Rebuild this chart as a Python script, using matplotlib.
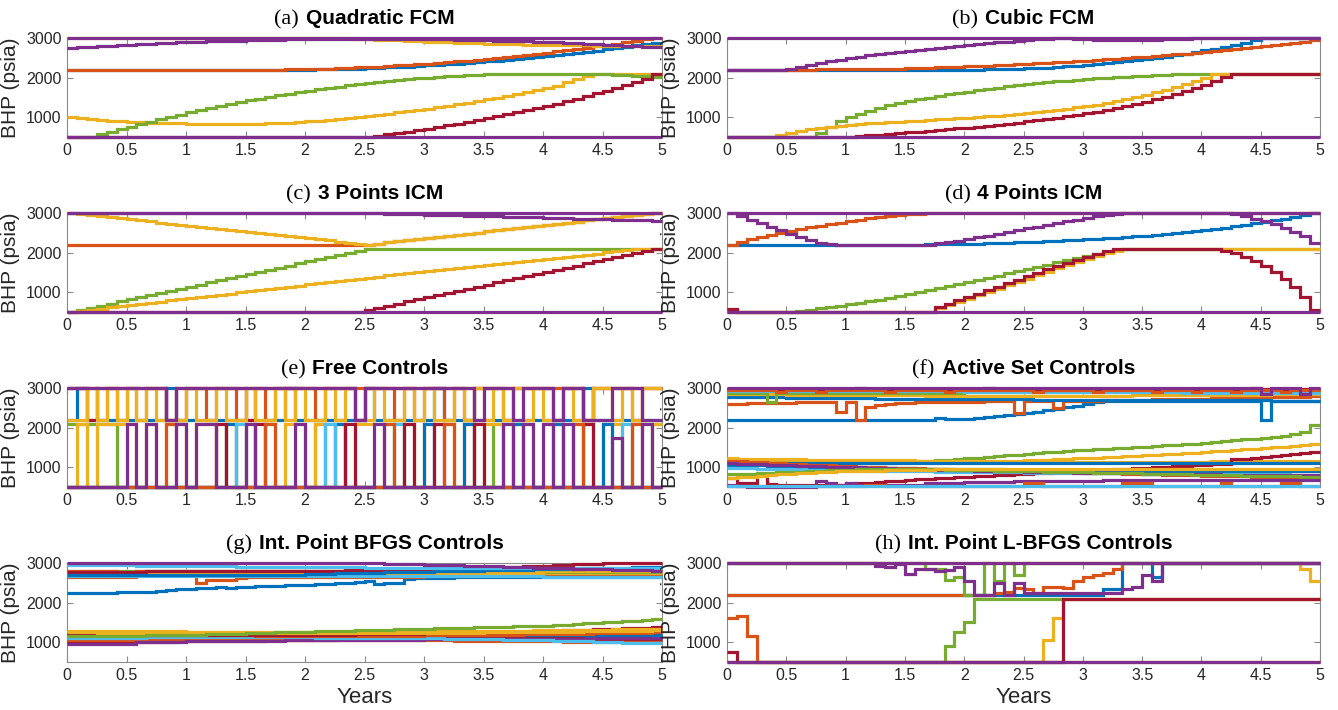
import numpy as np
import matplotlib.pyplot as plt
from matplotlib.offsetbox import TextArea, HPacker, AnchoredOffsetbox

BLUE = '#0072BD'
ORANGE = '#D95319'
YELLOW = '#EDB120'
PURPLE = '#7E2F8E'
GREEN = '#77AC30'
CYAN = '#4DBEEE'
RED = '#A2142F'

# one control step per month over five years
step_edges = np.linspace(0, 5, 61)
x_ticks = [0, 0.5, 1, 1.5, 2, 2.5, 3, 3.5, 4, 4.5, 5]
x_tick_labels = ['0', '0.5', '1', '1.5', '2', '2.5', '3', '3.5', '4', '4.5', '5']
y_ticks = [1000, 2000, 3000]
y_tick_labels = ['1000', '2000', '3000']

# wells sitting on the BHP bounds (psia), monthly values
bhp_upper = [3000, 3000, 3000, 3000, 3000, 3000, 3000, 3000, 3000, 3000, 3000, 3000,
             3000, 3000, 3000, 3000, 3000, 3000, 3000, 3000, 3000, 3000, 3000, 3000,
             3000, 3000, 3000, 3000, 3000, 3000, 3000, 3000, 3000, 3000, 3000, 3000,
             3000, 3000, 3000, 3000, 3000, 3000, 3000, 3000, 3000, 3000, 3000, 3000,
             3000, 3000, 3000, 3000, 3000, 3000, 3000, 3000, 3000, 3000, 3000, 3000]
bhp_lower = [500, 500, 500, 500, 500, 500, 500, 500, 500, 500, 500, 500,
             500, 500, 500, 500, 500, 500, 500, 500, 500, 500, 500, 500,
             500, 500, 500, 500, 500, 500, 500, 500, 500, 500, 500, 500,
             500, 500, 500, 500, 500, 500, 500, 500, 500, 500, 500, 500,
             500, 500, 500, 500, 500, 500, 500, 500, 500, 500, 500, 500]

# (a) quadratic FCM
a_blue = [2200, 2200, 2200, 2200, 2200, 2200, 2200, 2200, 2200, 2200, 2200, 2200,
          2200, 2200, 2200, 2200, 2200, 2200, 2200, 2200, 2200, 2200, 2200, 2202,
          2204, 2208, 2212, 2217, 2223, 2230, 2238, 2247, 2257, 2268, 2280, 2293,
          2307, 2321, 2337, 2353, 2371, 2389, 2409, 2429, 2450, 2473, 2496, 2520,
          2545, 2571, 2598, 2626, 2655, 2685, 2716, 2747, 2780, 2813, 2848, 2883]
a_orange = [2200, 2200, 2200, 2200, 2200, 2200, 2200, 2200, 2200, 2200, 2200, 2200,
            2200, 2200, 2200, 2200, 2200, 2200, 2200, 2200, 2202, 2204, 2208, 2212,
            2217, 2224, 2231, 2239, 2248, 2258, 2269, 2281, 2294, 2308, 2323, 2339,
            2356, 2374, 2392, 2412, 2432, 2454, 2477, 2500, 2525, 2550, 2577, 2604,
            2633, 2662, 2692, 2723, 2756, 2789, 2823, 2858, 2894, 2931, 2969, 3000]
a_yellow_inj = [3000, 3000, 3000, 3000, 3000, 3000, 3000, 3000, 3000, 3000, 3000, 3000,
                3000, 3000, 3000, 3000, 3000, 3000, 3000, 3000, 3000, 3000, 3000, 3000,
                3000, 3000, 3000, 3000, 2995, 2983, 2971, 2960, 2949, 2939, 2929, 2919,
                2910, 2901, 2892, 2884, 2876, 2869, 2862, 2855, 2849, 2843, 2837, 2832,
                2827, 2823, 2819, 2815, 2812, 2809, 2807, 2805, 2803, 2802, 2801, 2800]
a_yellow_prod = [1000, 975, 952, 932, 915, 900, 888, 877, 867, 859, 852, 846,
                 841, 837, 834, 832, 831, 832, 834, 840, 847, 855, 865, 877,
                 895, 912, 930, 950, 972, 1000, 1030, 1060, 1090, 1120, 1152, 1185,
                 1220, 1256, 1292, 1330, 1368, 1408, 1450, 1493, 1537, 1583, 1630, 1680,
                 1730, 1800, 1880, 1960, 2040, 2100, 2100, 2100, 2100, 2100, 2100, 2100]
a_green = [500, 500, 500, 566, 634, 700, 765, 828, 890, 950, 1009, 1066,
           1122, 1176, 1229, 1280, 1329, 1377, 1424, 1469, 1512, 1554, 1595, 1633,
           1671, 1707, 1741, 1774, 1805, 1835, 1863, 1890, 1915, 1938, 1960, 1981,
           2000, 2018, 2034, 2048, 2061, 2073, 2083, 2091, 2098, 2100, 2100, 2100,
           2100, 2100, 2100, 2100, 2098, 2091, 2083, 2073, 2061, 2048, 2034, 2018]
a_red = [500, 500, 500, 500, 500, 500, 500, 500, 500, 500, 500, 500,
         500, 500, 500, 500, 500, 500, 500, 500, 500, 500, 500, 500,
         500, 500, 500, 500, 500, 500, 500, 530, 565, 600, 637, 675,
         715, 755, 795, 838, 882, 927, 975, 1022, 1070, 1120, 1172, 1225,
         1280, 1340, 1400, 1465, 1530, 1600, 1670, 1745, 1820, 1895, 1975, 2090]
a_purple = [2750, 2765, 2780, 2794, 2807, 2820, 2833, 2845, 2856, 2867, 2878, 2888,
            2897, 2906, 2915, 2922, 2930, 2937, 2943, 2949, 2954, 2959, 2964, 2967,
            2971, 2974, 2976, 2978, 2979, 2980, 2980, 2980, 2979, 2978, 2976, 2974,
            2971, 2967, 2964, 2959, 2954, 2949, 2943, 2937, 2930, 2922, 2915, 2906,
            2897, 2888, 2878, 2867, 2856, 2845, 2833, 2820, 2807, 2794, 2780, 2765]

# (b) cubic FCM
b_blue = [2200, 2200, 2200, 2200, 2200, 2200, 2200, 2200, 2200, 2200, 2200, 2200,
          2200, 2200, 2200, 2200, 2200, 2200, 2200, 2200, 2200, 2200, 2200, 2200,
          2200, 2203, 2207, 2212, 2218, 2225, 2233, 2243, 2255, 2268, 2283, 2300,
          2318, 2338, 2360, 2384, 2410, 2438, 2468, 2500, 2534, 2570, 2608, 2648,
          2690, 2735, 2782, 2832, 2885, 2940, 3000, 3000, 3000, 3000, 3000, 3000]
b_orange = [2200, 2200, 2200, 2200, 2200, 2200, 2200, 2202, 2204, 2206, 2208, 2210,
            2212, 2215, 2218, 2222, 2226, 2231, 2236, 2243, 2250, 2258, 2266, 2274,
            2283, 2293, 2303, 2313, 2324, 2336, 2348, 2360, 2373, 2387, 2401, 2416,
            2431, 2446, 2462, 2478, 2495, 2512, 2530, 2548, 2567, 2587, 2607, 2628,
            2650, 2673, 2697, 2721, 2746, 2772, 2799, 2826, 2854, 2883, 2913, 2945]
b_green = [500, 500, 500, 500, 500, 500, 500, 500, 500, 600, 760, 900,
           1000, 1090, 1170, 1240, 1300, 1352, 1400, 1450, 1495, 1538, 1578, 1615,
           1650, 1685, 1718, 1750, 1780, 1808, 1835, 1860, 1884, 1906, 1927, 1946,
           1964, 1980, 1995, 2009, 2022, 2034, 2046, 2060, 2075, 2090, 2100, 2100,
           2100, 2100, 2100, 2100, 2100, 2100, 2100, 2100, 2100, 2100, 2100, 2100]
b_yellow = [500, 500, 500, 500, 500, 560, 610, 655, 695, 730, 760, 787,
            810, 828, 845, 860, 874, 887, 900, 914, 928, 943, 958, 974,
            990, 1006, 1023, 1041, 1060, 1080, 1100, 1125, 1152, 1182, 1214, 1247,
            1282, 1320, 1362, 1408, 1458, 1510, 1565, 1625, 1690, 1760, 1835, 1915,
            2000, 2080, 2100, 2100, 2100, 2100, 2100, 2100, 2100, 2100, 2100, 2100]
b_red = [500, 500, 500, 500, 500, 500, 500, 500, 500, 500, 500, 500,
         500, 520, 540, 560, 578, 597, 616, 635, 655, 675, 696, 718,
         740, 763, 787, 812, 838, 865, 893, 923, 955, 988, 1023, 1060,
         1098, 1140, 1185, 1232, 1282, 1335, 1390, 1450, 1515, 1585, 1660, 1740,
         1825, 1915, 2010, 2100, 2100, 2100, 2100, 2100, 2100, 2100, 2100, 2100]
b_purple = [2200, 2200, 2200, 2200, 2200, 2200, 2210, 2260, 2310, 2360, 2410, 2455,
            2495, 2530, 2565, 2598, 2628, 2655, 2680, 2705, 2728, 2752, 2775, 2798,
            2820, 2842, 2865, 2888, 2910, 2930, 2950, 2968, 2985, 2995, 2995, 2985,
            2972, 2962, 2955, 2950, 2950, 2952, 2956, 2962, 2970, 2978, 2986, 2993,
            3000, 3000, 3000, 3000, 3000, 3000, 3000, 3000, 3000, 3000, 3000, 3000]

# (c) 3 points ICM
c_orange = [2200, 2200, 2200, 2200, 2200, 2200, 2200, 2200, 2200, 2200, 2200, 2200,
            2200, 2200, 2200, 2200, 2200, 2200, 2200, 2200, 2200, 2200, 2200, 2200,
            2200, 2200, 2200, 2200, 2200, 2200, 2200, 2228, 2256, 2283, 2311, 2339,
            2367, 2394, 2422, 2450, 2478, 2506, 2533, 2561, 2589, 2617, 2644, 2672,
            2700, 2728, 2756, 2783, 2811, 2839, 2867, 2894, 2922, 2950, 2978, 3000]
c_yellow_inj = [3000, 2973, 2947, 2920, 2893, 2867, 2840, 2813, 2787, 2760, 2733, 2707,
                2680, 2653, 2627, 2600, 2573, 2547, 2520, 2493, 2467, 2440, 2413, 2387,
                2360, 2333, 2307, 2280, 2253, 2227, 2200, 2228, 2256, 2283, 2311, 2339,
                2367, 2394, 2422, 2450, 2478, 2506, 2533, 2561, 2589, 2617, 2644, 2672,
                2700, 2728, 2756, 2783, 2811, 2839, 2867, 2894, 2922, 2950, 2978, 3000]
c_green = [500, 553, 607, 660, 713, 767, 820, 873, 927, 980, 1033, 1087,
           1140, 1193, 1247, 1300, 1353, 1407, 1460, 1513, 1567, 1620, 1673, 1727,
           1780, 1833, 1887, 1940, 1993, 2047, 2100, 2100, 2100, 2100, 2100, 2100,
           2100, 2100, 2100, 2100, 2100, 2100, 2100, 2100, 2100, 2100, 2100, 2100,
           2100, 2100, 2100, 2100, 2100, 2100, 2100, 2100, 2100, 2100, 2100, 2100]
c_yellow_prod = [500, 529, 558, 587, 616, 645, 674, 703, 732, 761, 790, 819,
                 848, 877, 906, 935, 964, 993, 1022, 1051, 1080, 1109, 1138, 1167,
                 1196, 1225, 1254, 1283, 1312, 1341, 1370, 1396, 1423, 1449, 1476, 1502,
                 1528, 1555, 1581, 1608, 1634, 1660, 1687, 1713, 1740, 1766, 1792, 1819,
                 1845, 1872, 1898, 1924, 1951, 1977, 2004, 2030, 2056, 2083, 2100, 2100]
c_red = [500, 500, 500, 500, 500, 500, 500, 500, 500, 500, 500, 500,
         500, 500, 500, 500, 500, 500, 500, 500, 500, 500, 500, 500,
         500, 500, 500, 500, 500, 500, 553, 607, 660, 713, 767, 820,
         873, 927, 980, 1033, 1087, 1140, 1193, 1247, 1300, 1353, 1407, 1460,
         1513, 1567, 1620, 1673, 1727, 1780, 1833, 1887, 1940, 1993, 2047, 2100]
c_purple = [3000, 3000, 3000, 3000, 3000, 3000, 3000, 3000, 3000, 3000, 3000, 3000,
            3000, 3000, 3000, 3000, 3000, 3000, 3000, 3000, 3000, 3000, 3000, 3000,
            3000, 3000, 3000, 3000, 3000, 3000, 3000, 2993, 2987, 2980, 2973, 2967,
            2960, 2953, 2947, 2940, 2933, 2927, 2920, 2913, 2907, 2900, 2893, 2887,
            2880, 2873, 2867, 2860, 2853, 2847, 2840, 2833, 2827, 2820, 2813, 2807]

# (d) 4 points ICM
d_blue = [2200, 2200, 2200, 2200, 2200, 2200, 2200, 2200, 2200, 2200, 2200, 2200,
          2200, 2200, 2200, 2200, 2200, 2200, 2200, 2203, 2206, 2210, 2214, 2218,
          2222, 2228, 2235, 2242, 2250, 2258, 2267, 2277, 2288, 2299, 2311, 2323,
          2336, 2350, 2364, 2379, 2395, 2412, 2430, 2449, 2469, 2490, 2512, 2535,
          2570, 2600, 2632, 2665, 2700, 2737, 2775, 2815, 2857, 2900, 2945, 2990]
d_orange = [2200, 2270, 2340, 2400, 2455, 2505, 2550, 2595, 2640, 2680, 2720, 2758,
            2795, 2830, 2862, 2892, 2920, 2945, 2965, 2982, 2995, 3000, 3000, 3000,
            3000, 3000, 3000, 3000, 3000, 3000, 3000, 3000, 3000, 3000, 3000, 3000,
            3000, 3000, 3000, 3000, 3000, 3000, 3000, 3000, 3000, 3000, 3000, 3000,
            3000, 3000, 3000, 3000, 3000, 3000, 3000, 3000, 3000, 3000, 3000, 3000]
d_green = [500, 500, 500, 500, 500, 500, 500, 530, 560, 592, 625, 660,
           695, 732, 772, 815, 860, 905, 950, 998, 1048, 1098, 1150, 1202,
           1255, 1310, 1365, 1420, 1475, 1530, 1585, 1640, 1695, 1750, 1805, 1860,
           1915, 1970, 2020, 2065, 2100, 2100, 2100, 2100, 2100, 2100, 2100, 2100,
           2100, 2100, 2100, 2100, 2100, 2100, 2100, 2100, 2100, 2100, 2100, 2100]
d_yellow = [500, 500, 500, 500, 500, 500, 500, 500, 500, 500, 500, 500,
            500, 500, 500, 500, 500, 500, 500, 500, 500, 600, 680, 760,
            840, 920, 1005, 1090, 1175, 1260, 1345, 1430, 1515, 1600, 1680, 1760,
            1835, 1910, 1980, 2045, 2100, 2100, 2100, 2100, 2100, 2100, 2100, 2100,
            2100, 2100, 2100, 2100, 2100, 2100, 2100, 2100, 2100, 2100, 2100, 2100]
d_red = [580, 500, 500, 500, 500, 500, 500, 500, 500, 500, 500, 500,
         500, 500, 500, 500, 500, 500, 500, 500, 500, 620, 700, 790,
         880, 965, 1050, 1140, 1230, 1320, 1410, 1495, 1580, 1660, 1740, 1820,
         1895, 1965, 2030, 2080, 2100, 2100, 2100, 2100, 2100, 2100, 2100, 2100,
         2100, 2080, 2040, 1980, 1900, 1790, 1660, 1510, 1340, 1130, 880, 560]
d_purple = [3000, 2920, 2830, 2740, 2650, 2560, 2470, 2390, 2310, 2250, 2210, 2200,
            2200, 2200, 2200, 2200, 2200, 2200, 2200, 2200, 2200, 2230, 2265, 2300,
            2340, 2385, 2430, 2475, 2520, 2565, 2610, 2655, 2700, 2745, 2790, 2835,
            2875, 2915, 2950, 2980, 3000, 3000, 3000, 3000, 3000, 3000, 3000, 3000,
            3000, 3000, 3000, 2970, 2920, 2860, 2790, 2710, 2620, 2520, 2410, 2250]

# (e) free controls (bang-bang)
e_blue_inj = [2200, 3000, 2200, 2200, 2200, 2200, 2200, 2200, 2200, 2200, 3000, 2200,
              2200, 2200, 2200, 2200, 2200, 2200, 2200, 2200, 2200, 2200, 3000, 2200,
              2200, 2200, 2200, 2200, 2200, 2200, 3000, 2200, 2200, 2200, 2200, 2200,
              2200, 3000, 2200, 2200, 2200, 2200, 2200, 2200, 2200, 2200, 2200, 2200,
              2200, 2200, 2200, 2200, 3000, 2200, 2200, 2200, 2200, 2200, 2200, 2200]
e_orange_inj = [3000, 3000, 3000, 2200, 3000, 2200, 3000, 2200, 3000, 3000, 2200, 3000,
                3000, 3000, 2200, 3000, 3000, 2200, 3000, 3000, 2200, 3000, 3000, 3000,
                3000, 2200, 3000, 3000, 3000, 3000, 3000, 3000, 3000, 2200, 3000, 3000,
                3000, 3000, 2200, 3000, 3000, 3000, 3000, 3000, 2200, 3000, 3000, 3000,
                3000, 3000, 3000, 3000, 2200, 3000, 3000, 3000, 3000, 2200, 3000, 3000]
e_red_inj = [3000, 3000, 2200, 3000, 3000, 3000, 3000, 3000, 3000, 3000, 2200, 2200,
             3000, 3000, 3000, 3000, 3000, 3000, 2200, 3000, 3000, 3000, 3000, 3000,
             3000, 3000, 3000, 3000, 3000, 2200, 3000, 3000, 3000, 3000, 3000, 2200,
             3000, 3000, 3000, 3000, 2200, 3000, 3000, 3000, 3000, 3000, 3000, 3000,
             3000, 2200, 3000, 3000, 2200, 3000, 3000, 3000, 3000, 3000, 3000, 3000]
e_yellow_inj = [2200, 2200, 3000, 2200, 3000, 2200, 3000, 2200, 3000, 2200, 2200, 2200,
                3000, 2200, 2200, 3000, 2200, 2200, 3000, 2200, 2200, 3000, 2200, 3000,
                2200, 2200, 3000, 2200, 3000, 2200, 2200, 3000, 2200, 2200, 3000, 2200,
                3000, 2200, 2200, 3000, 2200, 3000, 2200, 3000, 2200, 3000, 2200, 3000,
                2200, 2200, 3000, 2200, 2200, 3000, 3000, 2200, 3000, 2200, 3000, 3000]
e_purple_inj = [3000, 3000, 3000, 3000, 3000, 3000, 3000, 3000, 3000, 3000, 2200, 3000,
                3000, 3000, 3000, 3000, 3000, 3000, 3000, 3000, 3000, 3000, 3000, 3000,
                3000, 3000, 3000, 3000, 3000, 2200, 3000, 3000, 3000, 3000, 3000, 3000,
                3000, 3000, 3000, 3000, 3000, 2200, 3000, 3000, 3000, 2200, 3000, 3000,
                3000, 2200, 3000, 3000, 2200, 2200, 2200, 3000, 3000, 3000, 2200, 2200]
e_green_prod = [2100, 2100, 2100, 2100, 2100, 500, 500, 500, 500, 500, 500, 500,
                500, 500, 500, 500, 500, 500, 500, 500, 500, 500, 500, 500,
                500, 2100, 500, 500, 500, 500, 500, 500, 500, 500, 500, 500,
                500, 500, 500, 500, 500, 500, 500, 2100, 500, 500, 500, 500,
                500, 500, 500, 500, 500, 500, 500, 500, 500, 500, 500, 2100]
e_yellow_prod = [500, 2100, 500, 2100, 2100, 2100, 2100, 500, 2100, 500, 2100, 2100,
                 500, 2100, 2100, 500, 2100, 500, 2100, 500, 2100, 500, 2100, 2100,
                 500, 2100, 500, 2100, 500, 2100, 2100, 2100, 2100, 500, 2100, 500,
                 2100, 2100, 2100, 500, 2100, 500, 2100, 2100, 500, 2100, 2100, 500,
                 2100, 2100, 500, 2100, 2100, 500, 2100, 2100, 500, 2100, 2100, 2100]
e_blue_prod = [500, 500, 500, 500, 500, 500, 500, 500, 500, 500, 500, 500,
               500, 500, 500, 500, 2100, 500, 500, 500, 500, 500, 500, 500,
               500, 500, 500, 2100, 500, 500, 500, 500, 500, 500, 500, 500,
               2100, 500, 500, 500, 2100, 500, 500, 500, 500, 2100, 500, 500,
               500, 2100, 500, 500, 500, 500, 2100, 500, 500, 500, 500, 500]
e_cyan_prod = [500, 500, 500, 500, 500, 500, 500, 500, 500, 500, 500, 500,
               500, 500, 500, 500, 500, 2100, 500, 500, 500, 500, 500, 500,
               500, 500, 2100, 500, 500, 500, 500, 500, 500, 2100, 500, 500,
               500, 500, 500, 500, 500, 500, 500, 500, 500, 500, 500, 500,
               500, 500, 500, 500, 500, 500, 500, 500, 2100, 500, 500, 500]
e_red_prod = [500, 500, 500, 500, 500, 500, 500, 500, 500, 500, 500, 500,
              500, 500, 500, 2100, 500, 500, 500, 2100, 500, 500, 500, 500,
              500, 500, 500, 500, 2100, 500, 500, 500, 500, 500, 2100, 500,
              500, 2100, 500, 500, 500, 2100, 500, 500, 500, 500, 500, 500,
              500, 500, 500, 500, 2100, 500, 500, 500, 500, 500, 500, 500]
e_orange_prod = [500, 500, 500, 500, 500, 500, 500, 500, 500, 500, 2100, 500,
                 500, 500, 500, 500, 500, 500, 500, 500, 2100, 500, 500, 500,
                 500, 500, 500, 500, 500, 500, 500, 500, 2100, 500, 500, 500,
                 500, 500, 2100, 500, 500, 500, 500, 500, 500, 500, 500, 500,
                 500, 500, 500, 2100, 500, 500, 500, 500, 500, 2100, 500, 500]
e_purple_prod = [500, 500, 500, 500, 500, 500, 2100, 500, 2100, 500, 500, 2100,
                 500, 2100, 2100, 500, 500, 500, 2100, 500, 500, 500, 500, 2100,
                 500, 500, 500, 500, 500, 500, 500, 2100, 500, 500, 500, 500,
                 500, 500, 500, 500, 500, 500, 500, 500, 2100, 500, 2100, 500,
                 2100, 500, 2100, 500, 500, 500, 500, 1742, 500, 500, 2100, 500]

# (f) active set controls
f_blue_inj = [2200, 2200, 2200, 2200, 2200, 2200, 2200, 2200, 2200, 2200, 2200, 2200,
              2200, 2200, 2200, 2200, 2200, 2200, 2200, 2200, 2200, 2250, 2215, 2210,
              2220, 2240, 2265, 2290, 2315, 2340, 2370, 2405, 2440, 2475, 2515, 2555,
              2600, 2635, 2665, 2680, 2680, 2680, 2680, 2680, 2680, 2680, 2680, 2680,
              2680, 2680, 2680, 2680, 2680, 2680, 2200, 2680, 2680, 2680, 2680, 2680]
f_orange_inj = [2600, 2605, 2610, 2615, 2620, 2625, 2630, 2635, 2640, 2645, 2645, 2400,
                2650, 2200, 2520, 2560, 2590, 2610, 2625, 2635, 2640, 2645, 2650, 2650,
                2655, 2655, 2660, 2660, 2660, 2380, 2665, 2665, 2670, 2500, 2670, 2675,
                2680, 2680, 2685, 2690, 2695, 2700, 2705, 2710, 2715, 2720, 2725, 2730,
                2735, 2740, 2745, 2750, 2755, 2760, 2765, 2770, 2775, 2780, 2785, 2790]
f_blue_inj2 = [2780, 2777, 2773, 2770, 2767, 2763, 2760, 2757, 2753, 2750, 2747, 2743,
               2740, 2738, 2737, 2735, 2733, 2732, 2730, 2728, 2727, 2725, 2723, 2722,
               2720, 2718, 2717, 2715, 2713, 2712, 2710, 2708, 2707, 2705, 2703, 2702,
               2700, 2699, 2698, 2698, 2697, 2696, 2695, 2694, 2693, 2693, 2692, 2691,
               2690, 2689, 2688, 2688, 2687, 2686, 2685, 2684, 2683, 2683, 2682, 2681]
f_yellow_inj = [2850, 2848, 2845, 2843, 2840, 2838, 2835, 2833, 2830, 2828, 2825, 2823,
                2820, 2819, 2818, 2816, 2815, 2814, 2813, 2811, 2810, 2809, 2808, 2806,
                2805, 2805, 2805, 2805, 2805, 2805, 2805, 2805, 2805, 2805, 2805, 2805,
                2805, 2806, 2808, 2809, 2810, 2811, 2813, 2814, 2815, 2816, 2818, 2819,
                2820, 2823, 2825, 2828, 2830, 2833, 2835, 2838, 2840, 2843, 2845, 2848]
f_green_inj = [2880, 2880, 2880, 2880, 2650, 2880, 2880, 2880, 2880, 2880, 2880, 2880,
               2885, 2885, 2885, 2885, 2885, 2885, 2885, 2885, 2885, 2885, 2885, 2885,
               2890, 2890, 2890, 2890, 2890, 2890, 2890, 2890, 2890, 2890, 2890, 2890,
               2895, 2895, 2895, 2895, 2895, 2895, 2895, 2895, 2895, 2895, 2895, 2895,
               2900, 2900, 2900, 2900, 2900, 2900, 2900, 2900, 2900, 2900, 2900, 2900]
f_cyan_inj = [2925, 2925, 2925, 2925, 2925, 2925, 2925, 2925, 2925, 2925, 2925, 2925,
              2915, 2915, 2915, 2915, 2915, 2915, 2915, 2915, 2915, 2915, 2915, 2915,
              2905, 2905, 2905, 2905, 2905, 2905, 2905, 2905, 2905, 2905, 2905, 2905,
              2900, 2900, 2900, 2900, 2900, 2900, 2900, 2900, 2900, 2900, 2870, 2870,
              2870, 2870, 2885, 2885, 2885, 2885, 2885, 2885, 2885, 2885, 2885, 2885]
f_red_inj = [2965, 2965, 2965, 2965, 2965, 2965, 2965, 2965, 2965, 2965, 2965, 2965,
             2965, 3000, 2965, 2965, 2965, 2965, 2965, 2965, 2965, 2965, 2965, 2965,
             2965, 2965, 3000, 2965, 2965, 2965, 2965, 2965, 2965, 2965, 2965, 2965,
             2965, 2965, 2965, 2965, 2965, 2965, 2965, 2965, 2965, 2965, 2965, 2965,
             2965, 2965, 2965, 2965, 2965, 3000, 2965, 2965, 2965, 2965, 2965, 2965]
f_orange_inj2 = [2940, 2940, 2940, 2940, 2940, 2900, 2940, 2940, 2940, 2900, 2940, 2940,
                 2940, 2940, 2940, 2940, 2900, 2940, 2940, 2940, 2940, 2940, 2900, 2940,
                 2940, 2940, 2940, 2940, 2940, 2940, 2940, 2900, 2940, 2940, 2940, 2940,
                 2940, 2900, 2940, 2940, 2940, 2940, 2940, 2900, 2940, 2940, 2940, 2900,
                 2940, 2940, 2940, 2900, 2940, 2940, 2940, 2940, 2900, 2940, 2940, 2940]
f_purple_inj = [3000, 3000, 3000, 3000, 3000, 3000, 3000, 3000, 3000, 3000, 3000, 3000,
                3000, 3000, 3000, 3000, 3000, 3000, 3000, 3000, 3000, 3000, 3000, 3000,
                3000, 3000, 3000, 3000, 3000, 3000, 3000, 3000, 3000, 3000, 3000, 3000,
                3000, 3000, 3000, 3000, 3000, 3000, 3000, 3000, 3000, 3000, 3000, 3000,
                3000, 3000, 3000, 3000, 3000, 3000, 2850, 3000, 3000, 3000, 2850, 3000]
f_green_prod = [1150, 1143, 1137, 1130, 1123, 1117, 1110, 1107, 1103, 1100, 1097, 1093,
                1090, 1097, 1103, 1110, 1117, 1123, 1130, 1145, 1160, 1175, 1190, 1205,
                1220, 1240, 1260, 1280, 1300, 1320, 1340, 1357, 1373, 1390, 1407, 1423,
                1440, 1453, 1467, 1480, 1493, 1507, 1520, 1535, 1550, 1565, 1580, 1595,
                1610, 1630, 1650, 1675, 1700, 1720, 1745, 1770, 1800, 1830, 1900, 2060]
f_yellow_prod = [1220, 1217, 1213, 1210, 1207, 1203, 1200, 1197, 1193, 1190, 1187, 1183,
                 1180, 1178, 1177, 1175, 1173, 1172, 1170, 1168, 1167, 1165, 1163, 1162,
                 1160, 1162, 1163, 1165, 1167, 1168, 1170, 1180, 1190, 1200, 1210, 1220,
                 1230, 1242, 1253, 1265, 1277, 1288, 1300, 1313, 1327, 1340, 1353, 1367,
                 1380, 1397, 1413, 1430, 1447, 1463, 1480, 1500, 1520, 1540, 1560, 1580]
f_yellow_prod2 = [1200, 1195, 1190, 1185, 1180, 1175, 1170, 1165, 1160, 1155, 1150, 1148,
                  1146, 1144, 1142, 1140, 1140, 1138, 1137, 1136, 1135, 1134, 1133, 1132,
                  1131, 1130, 1130, 1130, 1130, 1130, 1130, 1130, 1130, 1130, 1130, 1130,
                  1131, 1132, 1133, 1134, 1135, 1136, 1137, 1138, 1139, 1140, 1141, 1142,
                  1143, 1144, 1145, 1146, 1147, 1148, 1149, 1150, 1150, 1150, 1150, 1150]
f_red_prod = [720, 600, 600, 800, 580, 560, 550, 545, 540, 540, 540, 560,
              580, 597, 613, 630, 647, 663, 680, 693, 707, 720, 733, 747,
              760, 773, 787, 800, 813, 827, 840, 852, 863, 875, 887, 898,
              910, 922, 933, 945, 957, 968, 980, 993, 1007, 1020, 1033, 1047,
              1060, 1070, 1080, 1200, 1215, 1230, 1260, 1285, 1310, 1340, 1360, 1390]
f_blue_prod = [1120, 1118, 1117, 1115, 1113, 1112, 1110, 1108, 1107, 1105, 1103, 1102,
               1100, 1100, 1100, 1100, 1100, 1100, 1100, 1100, 1100, 1100, 1100, 1100,
               1100, 1100, 1100, 1100, 1100, 1100, 1100, 1100, 1100, 1100, 1100, 1100,
               1100, 1100, 1100, 1100, 1100, 1100, 1100, 1100, 1100, 1100, 1100, 1100,
               1100, 1100, 1100, 1100, 1100, 1100, 1100, 1100, 1100, 1100, 1100, 1100]
f_blue_prod2 = [1060, 1054, 1048, 1043, 1037, 1031, 1025, 1019, 1013, 1008, 1002, 996,
                990, 987, 983, 980, 977, 973, 970, 967, 963, 960, 957, 953,
                950, 948, 945, 943, 940, 938, 935, 933, 930, 928, 925, 923,
                920, 919, 918, 916, 915, 914, 913, 911, 910, 909, 908, 906,
                905, 905, 904, 904, 903, 903, 903, 902, 902, 901, 901, 900]
f_cyan_prod = [980, 975, 970, 965, 960, 955, 950, 945, 940, 935, 930, 925,
               920, 917, 913, 910, 907, 903, 900, 897, 893, 890, 887, 883,
               880, 878, 875, 873, 870, 868, 865, 863, 860, 858, 855, 853,
               850, 848, 847, 845, 843, 842, 840, 838, 837, 835, 833, 832,
               830, 828, 827, 825, 823, 822, 820, 818, 817, 815, 813, 812]
f_orange_prod = [1160, 1148, 1137, 1125, 1113, 1102, 1090, 1078, 1067, 1055, 1043, 1032,
                 1020, 1013, 1005, 998, 990, 983, 975, 968, 960, 953, 945, 938,
                 930, 924, 918, 913, 907, 901, 895, 889, 883, 878, 872, 866,
                 860, 854, 848, 843, 837, 831, 825, 819, 813, 808, 802, 796,
                 790, 784, 778, 773, 767, 761, 755, 749, 743, 738, 732, 726]
f_purple_prod = [1100, 1092, 1083, 1075, 1067, 1058, 1050, 1042, 1033, 1025, 1017, 1008,
                 1000, 993, 987, 980, 973, 967, 960, 953, 947, 940, 933, 927,
                 920, 915, 910, 905, 900, 895, 890, 885, 880, 875, 870, 865,
                 860, 857, 853, 850, 847, 843, 840, 837, 833, 830, 827, 823,
                 820, 818, 815, 813, 810, 808, 805, 803, 800, 798, 795, 793]
f_green_prod2 = [830, 835, 840, 850, 860, 870, 880, 890, 900, 910, 920, 930,
                 940, 942, 944, 946, 948, 950, 950, 948, 945, 942, 938, 934,
                 930, 925, 920, 915, 910, 905, 900, 895, 890, 885, 880, 875,
                 870, 865, 860, 855, 850, 845, 840, 835, 830, 825, 820, 815,
                 810, 805, 800, 795, 790, 785, 780, 775, 770, 765, 760, 755]
f_yellow_prod3 = [720, 740, 760, 780, 800, 820, 840, 855, 865, 875, 885, 895,
                  900, 905, 910, 915, 920, 925, 930, 935, 940, 945, 948, 950,
                  950, 950, 950, 950, 950, 950, 950, 950, 950, 950, 950, 950,
                  950, 950, 950, 950, 950, 950, 950, 950, 950, 950, 950, 950,
                  950, 950, 950, 950, 950, 950, 950, 950, 950, 950, 950, 950]
f_purple_prod2 = [560, 520, 500, 500, 500, 500, 500, 500, 500, 650, 600, 560,
                  600, 560, 560, 560, 560, 560, 560, 560, 600, 600, 600, 610,
                  615, 620, 625, 630, 635, 640, 645, 650, 652, 654, 656, 658,
                  660, 662, 664, 666, 668, 670, 672, 674, 676, 678, 680, 680,
                  680, 680, 680, 680, 680, 680, 680, 680, 680, 680, 680, 680]
f_orange_prod2 = [520, 520, 520, 520, 520, 520, 520, 520, 520, 520, 520, 520,
                  520, 520, 560, 560, 520, 520, 520, 520, 520, 520, 520, 520,
                  520, 520, 520, 520, 520, 520, 600, 600, 520, 520, 520, 520,
                  520, 520, 520, 520, 600, 600, 600, 520, 520, 520, 520, 520,
                  520, 520, 600, 520, 520, 520, 520, 520, 600, 600, 520, 520]
f_cyan_prod2 = [530, 530, 530, 530, 530, 530, 530, 530, 530, 530, 530, 530,
                530, 530, 530, 530, 530, 530, 530, 530, 530, 530, 530, 530,
                530, 530, 530, 530, 530, 530, 530, 530, 530, 530, 530, 530,
                530, 530, 530, 530, 530, 530, 530, 530, 530, 530, 530, 530,
                530, 530, 530, 530, 530, 530, 530, 530, 530, 530, 530, 530]

# (g) interior point BFGS controls
g_blue_inj = [2250, 2250, 2250, 2252, 2254, 2256, 2260, 2270, 2280, 2300, 2320, 2340,
              2350, 2360, 2375, 2385, 2375, 2390, 2400, 2410, 2420, 2430, 2440, 2448,
              2455, 2465, 2475, 2490, 2505, 2520, 2535, 2480, 2490, 2500, 2600, 2610,
              2620, 2625, 2630, 2635, 2640, 2645, 2650, 2650, 2650, 2650, 2650, 2650,
              2650, 2650, 2650, 2650, 2650, 2650, 2650, 2650, 2650, 2650, 2650, 2650]
g_orange_inj2 = [2650, 2650, 2650, 2650, 2650, 2640, 2640, 2690, 2690, 2695, 2695, 2700,
                 2700, 2500, 2560, 2560, 2580, 2620, 2640, 2650, 2650, 2650, 2650, 2650,
                 2655, 2655, 2655, 2655, 2655, 2655, 2655, 2655, 2655, 2655, 2655, 2655,
                 2660, 2660, 2660, 2660, 2660, 2660, 2660, 2660, 2660, 2660, 2660, 2660,
                 2670, 2670, 2670, 2670, 2670, 2670, 2670, 2670, 2670, 2670, 2670, 2670]
g_yellow_inj = [2720, 2720, 2720, 2720, 2720, 2720, 2720, 2720, 2720, 2720, 2720, 2720,
                2722, 2722, 2722, 2722, 2722, 2722, 2722, 2722, 2722, 2722, 2722, 2722,
                2727, 2727, 2727, 2727, 2727, 2727, 2727, 2727, 2727, 2727, 2727, 2727,
                2732, 2732, 2732, 2732, 2732, 2732, 2732, 2732, 2732, 2732, 2732, 2732,
                2738, 2738, 2738, 2738, 2738, 2738, 2738, 2738, 2738, 2738, 2738, 2738]
g_cyan_inj2 = [2680, 2680, 2680, 2680, 2680, 2680, 2680, 2680, 2680, 2680, 2680, 2680,
               2678, 2678, 2678, 2678, 2678, 2678, 2678, 2678, 2678, 2678, 2678, 2678,
               2672, 2672, 2672, 2672, 2672, 2672, 2672, 2672, 2672, 2672, 2672, 2672,
               2665, 2665, 2665, 2665, 2665, 2665, 2665, 2665, 2665, 2665, 2665, 2665,
               2655, 2655, 2655, 2655, 2655, 2655, 2655, 2655, 2655, 2655, 2655, 2655]
g_green_inj = [2810, 2810, 2810, 2810, 2810, 2810, 2810, 2810, 2810, 2810, 2810, 2810,
               2805, 2805, 2805, 2805, 2805, 2805, 2805, 2805, 2805, 2805, 2805, 2805,
               2800, 2800, 2800, 2800, 2800, 2800, 2800, 2800, 2800, 2800, 2800, 2800,
               2790, 2790, 2790, 2790, 2790, 2790, 2790, 2790, 2790, 2790, 2790, 2790,
               2780, 2778, 2777, 2775, 2773, 2772, 2770, 2768, 2767, 2765, 2763, 2762]
g_orange_inj = [2790, 2790, 2790, 2790, 2790, 2740, 2740, 2800, 2800, 2800, 2800, 2800,
                2800, 2800, 2800, 2800, 2800, 2800, 2800, 2800, 2800, 2800, 2800, 2800,
                2810, 2810, 2810, 2810, 2810, 2810, 2810, 2810, 2810, 2810, 2810, 2810,
                2820, 2823, 2827, 2830, 2833, 2837, 2840, 2843, 2847, 2850, 2853, 2857,
                2860, 2860, 2860, 2860, 2860, 2860, 2860, 2860, 2860, 2860, 2860, 2860]
g_yellow_inj2 = [2760, 2760, 2760, 2760, 2760, 2760, 2760, 2760, 2760, 2760, 2760, 2760,
                 2765, 2765, 2765, 2765, 2765, 2765, 2765, 2765, 2765, 2765, 2765, 2765,
                 2770, 2770, 2770, 2770, 2770, 2770, 2770, 2770, 2770, 2770, 2770, 2770,
                 2780, 2780, 2780, 2780, 2780, 2780, 2780, 2780, 2780, 2780, 2780, 2780,
                 2790, 2792, 2793, 2795, 2797, 2798, 2800, 2802, 2803, 2805, 2807, 2808]
g_red_inj = [2780, 2781, 2782, 2783, 2783, 2784, 2785, 2786, 2787, 2788, 2788, 2789,
             2790, 2791, 2792, 2793, 2793, 2794, 2795, 2796, 2797, 2798, 2798, 2799,
             2800, 2803, 2807, 2810, 2813, 2817, 2820, 2823, 2827, 2830, 2833, 2837,
             2840, 2848, 2855, 2863, 2870, 2878, 2885, 2893, 2900, 2908, 2915, 2923,
             2930, 2942, 2953, 2965, 2977, 2988, 3000, 3000, 3000, 3000, 3000, 3000]
g_blue_inj2 = [2700, 2700, 2700, 2700, 2700, 2700, 2700, 2700, 2700, 2700, 2700, 2700,
               2710, 2710, 2710, 2710, 2710, 2710, 2710, 2710, 2710, 2710, 2710, 2710,
               2725, 2730, 2735, 2740, 2745, 2750, 2755, 2760, 2765, 2770, 2775, 2780,
               2785, 2790, 2795, 2800, 2805, 2810, 2815, 2820, 2825, 2830, 2835, 2840,
               2845, 2850, 2855, 2860, 2865, 2870, 2875, 2880, 2885, 2890, 2895, 2900]
g_cyan_inj = [2960, 2960, 2960, 2960, 2960, 2960, 2940, 2935, 2930, 2928, 2926, 2924,
              2922, 2920, 2918, 2916, 2914, 2912, 2910, 2908, 2906, 2904, 2902, 2900,
              2898, 2896, 2894, 2892, 2890, 2888, 2886, 2884, 2882, 2880, 2878, 2876,
              2875, 2875, 2875, 2875, 2875, 2875, 2875, 2875, 2875, 2875, 2875, 2875,
              2870, 2870, 2870, 2870, 2870, 2870, 2870, 2870, 2870, 2870, 2870, 2870]
g_purple_inj = [3000, 3000, 3000, 3000, 3000, 3000, 3000, 3000, 3000, 3000, 3000, 3000,
                3000, 3000, 3000, 3000, 3000, 3000, 3000, 3000, 3000, 3000, 3000, 3000,
                3000, 3000, 3000, 3000, 3000, 3000, 3000, 2993, 2987, 2980, 2973, 2967,
                2960, 2953, 2947, 2940, 2933, 2927, 2920, 2913, 2907, 2900, 2893, 2887,
                2880, 2873, 2867, 2860, 2853, 2847, 2840, 2833, 2827, 2820, 2813, 2807]
g_cyan_prod2 = [1160, 1160, 1160, 1160, 1160, 1160, 1160, 1160, 1160, 1160, 1160, 1160,
                1150, 1150, 1150, 1150, 1150, 1150, 1150, 1150, 1150, 1150, 1150, 1150,
                1140, 1140, 1140, 1140, 1140, 1140, 1140, 1140, 1140, 1140, 1140, 1140,
                1125, 1125, 1125, 1125, 1125, 1125, 1125, 1125, 1125, 1125, 1125, 1125,
                1110, 1110, 1110, 1110, 1110, 1110, 1110, 1110, 1110, 1110, 1110, 1110]
g_blue_prod2 = [1020, 1023, 1027, 1030, 1033, 1037, 1040, 1043, 1047, 1050, 1053, 1057,
                1060, 1063, 1067, 1070, 1073, 1077, 1080, 1083, 1087, 1090, 1093, 1097,
                1100, 1103, 1105, 1108, 1110, 1113, 1115, 1118, 1120, 1123, 1125, 1128,
                1130, 1132, 1133, 1135, 1137, 1138, 1140, 1142, 1143, 1145, 1147, 1148,
                1150, 1151, 1152, 1153, 1153, 1154, 1155, 1156, 1157, 1158, 1158, 1159]
g_red_prod2 = [1000, 1002, 1003, 1005, 1007, 1008, 1010, 1012, 1013, 1015, 1017, 1018,
               1020, 1023, 1027, 1030, 1033, 1037, 1040, 1043, 1047, 1050, 1053, 1057,
               1060, 1063, 1067, 1070, 1073, 1077, 1080, 1083, 1087, 1090, 1093, 1097,
               1100, 1100, 1100, 1100, 1100, 1100, 1100, 1100, 1100, 1100, 1100, 1100,
               1100, 1098, 1097, 1095, 1093, 1092, 1090, 1088, 1087, 1085, 1083, 1082]
g_orange_prod2 = [1050, 1051, 1052, 1053, 1053, 1054, 1055, 1056, 1057, 1058, 1058, 1059,
                  1060, 1060, 1060, 1060, 1060, 1060, 1060, 1060, 1060, 1060, 1060, 1060,
                  1058, 1057, 1057, 1056, 1055, 1055, 1054, 1053, 1053, 1052, 1051, 1051,
                  1050, 1048, 1045, 1043, 1040, 1038, 1035, 1033, 1030, 1028, 1025, 1023,
                  1020, 1018, 1017, 1015, 1013, 1012, 1010, 1008, 1007, 1005, 1003, 1002]
g_purple_prod = [950, 950, 950, 950, 950, 950, 950, 1000, 1005, 1010, 1013, 1017,
                 1020, 1023, 1025, 1028, 1030, 1033, 1035, 1038, 1040, 1043, 1045, 1048,
                 1050, 1052, 1053, 1055, 1057, 1058, 1060, 1062, 1063, 1065, 1067, 1068,
                 1070, 1072, 1073, 1075, 1077, 1078, 1080, 1082, 1083, 1085, 1087, 1088,
                 1090, 1091, 1092, 1093, 1093, 1094, 1095, 1096, 1097, 1098, 1098, 1099]
g_cyan_prod = [1100, 1103, 1105, 1108, 1110, 1113, 1115, 1118, 1120, 1123, 1125, 1128,
               1130, 1129, 1128, 1128, 1127, 1126, 1125, 1124, 1123, 1123, 1122, 1121,
               1120, 1118, 1117, 1115, 1113, 1112, 1110, 1108, 1107, 1105, 1103, 1102,
               1100, 1096, 1092, 1088, 1083, 1079, 1075, 1071, 1067, 1063, 1058, 1054,
               1050, 1043, 1035, 1028, 1020, 1013, 1005, 998, 990, 983, 975, 968]
g_blue_prod = [1220, 1218, 1217, 1215, 1213, 1212, 1210, 1208, 1207, 1205, 1203, 1202,
               1200, 1199, 1198, 1198, 1197, 1196, 1195, 1194, 1193, 1193, 1192, 1191,
               1190, 1190, 1190, 1190, 1190, 1190, 1190, 1190, 1190, 1190, 1190, 1190,
               1185, 1185, 1185, 1185, 1185, 1185, 1185, 1185, 1185, 1185, 1185, 1185,
               1180, 1180, 1180, 1180, 1180, 1180, 1180, 1180, 1180, 1180, 1180, 1180]
g_orange_prod = [1210, 1208, 1205, 1203, 1200, 1198, 1195, 1193, 1190, 1188, 1185, 1183,
                 1180, 1178, 1177, 1175, 1173, 1172, 1170, 1168, 1167, 1165, 1163, 1162,
                 1160, 1161, 1162, 1163, 1163, 1164, 1165, 1166, 1167, 1168, 1168, 1169,
                 1170, 1173, 1175, 1178, 1180, 1183, 1185, 1188, 1190, 1193, 1195, 1198,
                 1200, 1204, 1208, 1213, 1217, 1221, 1225, 1229, 1233, 1238, 1242, 1246]
g_red_prod = [1200, 1198, 1195, 1193, 1190, 1188, 1185, 1183, 1180, 1178, 1175, 1173,
              1170, 1171, 1172, 1173, 1173, 1174, 1175, 1176, 1177, 1178, 1178, 1179,
              1180, 1183, 1187, 1190, 1193, 1197, 1200, 1203, 1207, 1210, 1213, 1217,
              1220, 1225, 1230, 1235, 1240, 1245, 1250, 1255, 1260, 1265, 1270, 1275,
              1280, 1288, 1297, 1305, 1313, 1322, 1330, 1338, 1347, 1355, 1363, 1372]
g_yellow_prod2 = [1250, 1248, 1247, 1245, 1244, 1242, 1241, 1239, 1238, 1236, 1235, 1234,
                  1233, 1232, 1231, 1230, 1230, 1230, 1230, 1230, 1230, 1231, 1231, 1232,
                  1232, 1232, 1233, 1233, 1233, 1234, 1234, 1234, 1235, 1235, 1235, 1235,
                  1235, 1237, 1239, 1241, 1243, 1245, 1247, 1250, 1252, 1254, 1256, 1258,
                  1260, 1263, 1267, 1270, 1273, 1277, 1280, 1283, 1287, 1290, 1293, 1297]
g_yellow_prod = [1290, 1288, 1287, 1285, 1283, 1282, 1280, 1278, 1277, 1275, 1273, 1272,
                 1270, 1269, 1268, 1268, 1267, 1266, 1265, 1264, 1263, 1263, 1262, 1261,
                 1260, 1261, 1262, 1263, 1263, 1264, 1265, 1266, 1267, 1268, 1268, 1269,
                 1270, 1273, 1275, 1278, 1280, 1283, 1285, 1288, 1290, 1293, 1295, 1298,
                 1300, 1303, 1307, 1310, 1313, 1317, 1320, 1323, 1327, 1330, 1333, 1337]
g_green_prod = [1150, 1153, 1155, 1158, 1160, 1163, 1165, 1168, 1170, 1173, 1175, 1178,
                1180, 1188, 1195, 1203, 1210, 1218, 1225, 1233, 1240, 1248, 1255, 1263,
                1270, 1276, 1282, 1288, 1293, 1299, 1305, 1311, 1317, 1323, 1328, 1334,
                1340, 1347, 1353, 1360, 1367, 1373, 1380, 1387, 1393, 1400, 1407, 1413,
                1420, 1433, 1447, 1460, 1473, 1487, 1500, 1513, 1527, 1540, 1560, 1580]

# (h) interior point L-BFGS controls
h_blue = [2200, 2200, 2200, 2200, 2200, 2200, 2200, 2200, 2200, 2200, 2200, 2200,
          2200, 2200, 2200, 2200, 2200, 2200, 2200, 2200, 2200, 2200, 2200, 2200,
          2200, 2200, 2200, 2200, 2200, 2200, 2200, 2200, 2200, 2200, 2200, 2200,
          2200, 2200, 2350, 2350, 3000, 3000, 3000, 2650, 3000, 3000, 3000, 3000,
          3000, 3000, 3000, 3000, 3000, 3000, 3000, 3000, 3000, 3000, 3000, 3000]
h_orange_inj = [2200, 2200, 2200, 2200, 2200, 2200, 2200, 2200, 2200, 2200, 2200, 2200,
                2200, 2200, 2200, 2200, 2200, 2200, 2200, 2200, 2200, 2200, 2200, 2200,
                2200, 2200, 2200, 2250, 2280, 2380, 2350, 2250, 2400, 2400, 2380, 2550,
                2650, 2700, 2750, 2850, 3000, 3000, 3000, 3000, 3000, 3000, 3000, 3000,
                3000, 3000, 3000, 3000, 3000, 3000, 3000, 3000, 3000, 3000, 3000, 3000]
h_orange_prod = [1600, 1650, 1150, 500, 500, 500, 500, 500, 500, 500, 500, 500,
                 500, 500, 500, 500, 500, 500, 500, 500, 500, 500, 500, 500,
                 500, 500, 500, 500, 500, 500, 500, 500, 500, 500, 500, 500,
                 500, 500, 500, 500, 500, 500, 500, 500, 500, 500, 500, 500,
                 500, 500, 500, 500, 500, 500, 500, 500, 500, 500, 500, 500]
h_yellow_prod = [500, 500, 500, 500, 500, 500, 500, 500, 500, 500, 500, 500,
                 500, 500, 500, 500, 500, 500, 500, 500, 500, 500, 500, 500,
                 500, 500, 500, 500, 500, 500, 500, 500, 1050, 1600, 2100, 2100,
                 2100, 2100, 2100, 2100, 2100, 2100, 2100, 2100, 2100, 2100, 2100, 2100,
                 2100, 2100, 2100, 2100, 2100, 2100, 2100, 2100, 2100, 2100, 2100, 2100]
h_yellow_inj = [3000, 3000, 3000, 3000, 3000, 3000, 3000, 3000, 3000, 3000, 3000, 3000,
                3000, 3000, 3000, 3000, 3000, 3000, 3000, 3000, 3000, 3000, 3000, 3000,
                3000, 3000, 3000, 3000, 3000, 3000, 3000, 3000, 3000, 3000, 3000, 3000,
                3000, 3000, 3000, 3000, 3000, 3000, 3000, 3000, 3000, 3000, 3000, 3000,
                3000, 3000, 3000, 3000, 3000, 3000, 3000, 3000, 3000, 3000, 2850, 2550]
h_green_prod = [500, 500, 500, 500, 500, 500, 500, 500, 500, 500, 500, 500,
                500, 500, 500, 500, 500, 500, 500, 500, 500, 500, 900, 1250,
                1500, 2100, 2100, 2100, 2100, 2100, 2100, 2100, 2100, 2100, 2100, 2100,
                2100, 2100, 2100, 2100, 2100, 2100, 2100, 2100, 2100, 2100, 2100, 2100,
                2100, 2100, 2100, 2100, 2100, 2100, 2100, 2100, 2100, 2100, 2100, 2100]
h_green_inj = [3000, 3000, 3000, 3000, 3000, 3000, 3000, 3000, 3000, 3000, 3000, 3000,
               3000, 3000, 3000, 3000, 3000, 3000, 3000, 3000, 2850, 2850, 2560, 2650,
               2200, 2200, 3000, 2550, 3000, 2700, 3000, 3000, 3000, 3000, 3000, 3000,
               3000, 3000, 3000, 3000, 3000, 3000, 3000, 3000, 3000, 3000, 3000, 3000,
               3000, 3000, 3000, 3000, 3000, 3000, 3000, 3000, 3000, 3000, 3000, 3000]
h_red = [750, 500, 500, 500, 500, 500, 500, 500, 500, 500, 500, 500,
         500, 500, 500, 500, 500, 500, 500, 500, 500, 500, 500, 500,
         500, 500, 500, 500, 500, 500, 500, 500, 500, 500, 2100, 2100,
         2100, 2100, 2100, 2100, 2100, 2100, 2100, 2100, 2100, 2100, 2100, 2100,
         2100, 2100, 2100, 2100, 2100, 2100, 2100, 2100, 2100, 2100, 2100, 2100]
h_purple = [3000, 3000, 3000, 3000, 3000, 3000, 3000, 3000, 3000, 3000, 3000, 3000,
            3000, 3000, 3000, 2930, 2900, 2980, 2720, 2850, 2850, 2800, 2820, 2900,
            2550, 2200, 2200, 2500, 2200, 2500, 2250, 2250, 2250, 2250, 2250, 2250,
            2250, 2250, 2250, 2250, 2350, 2400, 2700, 2550, 3000, 3000, 3000, 3000,
            3000, 3000, 3000, 3000, 3000, 3000, 3000, 3000, 3000, 3000, 3000, 3000]

panels = [
    ('(a)', 'Quadratic FCM',
     [(a_blue, BLUE), (a_orange, ORANGE), (a_yellow_inj, YELLOW), (a_yellow_prod, YELLOW),
      (a_green, GREEN), (a_red, RED), (a_purple, PURPLE),
      (bhp_upper, PURPLE), (bhp_lower, PURPLE)]),
    ('(b)', 'Cubic FCM',
     [(b_blue, BLUE), (b_orange, ORANGE), (b_green, GREEN), (b_yellow, YELLOW),
      (b_red, RED), (b_purple, PURPLE), (bhp_upper, PURPLE), (bhp_lower, PURPLE)]),
    ('(c)', '3 Points ICM',
     [(c_orange, ORANGE), (c_yellow_inj, YELLOW), (c_green, GREEN), (c_yellow_prod, YELLOW),
      (c_red, RED), (c_purple, PURPLE), (bhp_upper, PURPLE), (bhp_lower, PURPLE)]),
    ('(d)', '4 Points ICM',
     [(d_blue, BLUE), (d_orange, ORANGE), (d_green, GREEN), (d_yellow, YELLOW),
      (d_red, RED), (d_purple, PURPLE), (bhp_upper, PURPLE), (bhp_lower, PURPLE)]),
    ('(e)', 'Free Controls',
     [(e_blue_inj, BLUE), (e_orange_inj, ORANGE), (e_red_inj, RED), (e_yellow_inj, YELLOW),
      (e_purple_inj, PURPLE), (e_green_prod, GREEN), (e_yellow_prod, YELLOW),
      (e_blue_prod, BLUE), (e_cyan_prod, CYAN), (e_red_prod, RED),
      (e_orange_prod, ORANGE), (e_purple_prod, PURPLE)]),
    ('(f)', 'Active Set Controls',
     [(f_blue_inj, BLUE), (f_orange_inj, ORANGE), (f_blue_inj2, BLUE), (f_yellow_inj, YELLOW),
      (f_green_inj, GREEN), (f_cyan_inj, CYAN), (f_red_inj, RED), (f_orange_inj2, ORANGE),
      (f_purple_inj, PURPLE), (f_green_prod, GREEN), (f_yellow_prod, YELLOW),
      (f_yellow_prod2, YELLOW), (f_red_prod, RED), (f_blue_prod, BLUE),
      (f_blue_prod2, BLUE), (f_cyan_prod, CYAN), (f_orange_prod, ORANGE),
      (f_purple_prod, PURPLE), (f_green_prod2, GREEN), (f_yellow_prod3, YELLOW),
      (f_purple_prod2, PURPLE), (f_orange_prod2, ORANGE), (f_cyan_prod2, CYAN)]),
    ('(g)', 'Int. Point BFGS Controls',
     [(g_blue_inj, BLUE), (g_orange_inj2, ORANGE), (g_yellow_inj, YELLOW),
      (g_cyan_inj2, CYAN), (g_green_inj, GREEN), (g_orange_inj, ORANGE),
      (g_yellow_inj2, YELLOW), (g_red_inj, RED), (g_blue_inj2, BLUE),
      (g_cyan_inj, CYAN), (g_purple_inj, PURPLE), (g_cyan_prod2, CYAN),
      (g_blue_prod2, BLUE), (g_red_prod2, RED), (g_orange_prod2, ORANGE),
      (g_purple_prod, PURPLE), (g_cyan_prod, CYAN), (g_blue_prod, BLUE),
      (g_orange_prod, ORANGE), (g_red_prod, RED), (g_yellow_prod2, YELLOW),
      (g_yellow_prod, YELLOW), (g_green_prod, GREEN)]),
    ('(h)', 'Int. Point L-BFGS Controls',
     [(h_blue, BLUE), (h_orange_inj, ORANGE), (h_orange_prod, ORANGE),
      (h_yellow_prod, YELLOW), (h_yellow_inj, YELLOW), (h_green_prod, GREEN),
      (h_green_inj, GREEN), (h_red, RED), (h_purple, PURPLE),
      (bhp_upper, PURPLE), (bhp_lower, PURPLE)]),
]

# axes boxes in figure fractions: [left, bottom, width, height]
col_left = [0.0501, 0.5434]
col_width = [0.4447, 0.4432]
row_bottom = [0.8070, 0.5606, 0.3141, 0.0676]
ax_height = 0.1394

AXIS_GREY = '#8a8a8a'
TEXT_GREY = '#262626'

fig = plt.figure(figsize=(13.38, 7.10), dpi=100)
fig.patch.set_facecolor('white')

for i, (tag, name, wells) in enumerate(panels):
    row, col = divmod(i, 2)
    ax = fig.add_axes([col_left[col], row_bottom[row], col_width[col], ax_height])
    for vals, colour in wells:
        # lines sit above the frame so wells on the bounds stay visible
        ax.stairs(vals, step_edges, baseline=None, color=colour, lw=2.3,
                  clip_on=False, zorder=3)

    ax.set_xlim(0, 5)
    ax.set_ylim(500, 3000)
    ax.set_xticks(x_ticks)
    ax.set_xticklabels(x_tick_labels)
    ax.set_yticks(y_ticks)
    ax.set_yticklabels(y_tick_labels)
    ax.tick_params(direction='in', length=4, width=0.8, color=AXIS_GREY,
                   labelcolor=TEXT_GREY, labelsize=11.5, top=True, right=True, pad=4)
    for lab in ax.get_xticklabels() + ax.get_yticklabels():
        lab.set_family('Liberation Sans')
    for sp in ax.spines.values():
        sp.set_color(AXIS_GREY)
        sp.set_linewidth(0.8)
    ax.set_ylabel('BHP (psia)', fontsize=15, family='Liberation Sans',
                  color=TEXT_GREY, labelpad=4)
    if row == 3:
        ax.set_xlabel('Years', fontsize=16, family='Liberation Sans',
                      color=TEXT_GREY, labelpad=3)

    # title: serif panel tag followed by bold sans name
    tag_box = TextArea(tag, textprops=dict(family='Liberation Serif', size=16, color='black'))
    name_box = TextArea(name, textprops=dict(family=['Liberation Sans Narrow', 'Liberation Sans'],
                                             weight='bold', size=15, color='black'))
    pack = HPacker(children=[tag_box, name_box], align='baseline', pad=0, sep=5)
    title = AnchoredOffsetbox(loc='lower center', child=pack, pad=0, borderpad=0,
                              frameon=False, bbox_to_anchor=(0.5, 1.09),
                              bbox_transform=ax.transAxes)
    ax.add_artist(title)

fig.savefig('out.png', dpi=100, facecolor='white')
